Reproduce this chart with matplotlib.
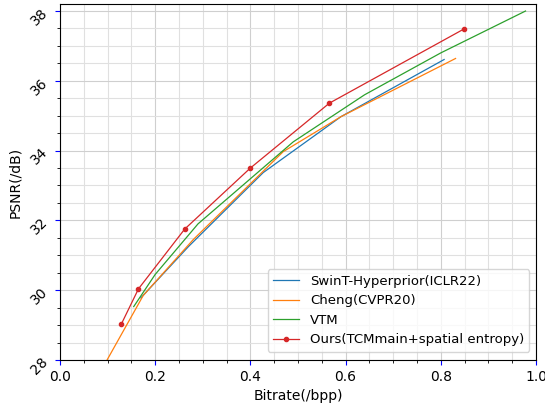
import matplotlib.pyplot as plt
from matplotlib.ticker import MultipleLocator

# RD data
swint_bpp = [0.17, 0.27, 0.427, 0.59, 0.807]
swint_psnr = [29.78, 31.25, 33.37, 34.97, 36.61]

cheng_bpp = [0.099, 0.175, 0.28, 0.469, 0.59, 0.831]
cheng_psnr = [28.0, 29.85, 31.45, 33.97, 34.97, 36.64]

vtm_bpp = [0.155, 0.2, 0.29, 0.49, 0.64, 0.80, 0.978]
vtm_psnr = [29.53, 30.45, 31.9, 34.25, 35.6, 36.8, 38.0]

ours_bpp = [0.129, 0.165, 0.262, 0.40, 0.566, 0.848]
ours_psnr = [29.03, 30.04, 31.75, 33.50, 35.36, 37.48]

fig = plt.figure(figsize=(5.45, 4.04), dpi=100)
ax = fig.add_axes([0.110, 0.109, 0.8735, 0.881])

ax.plot(swint_bpp, swint_psnr, color="tab:blue", lw=0.9, label="SwinT-Hyperprior(ICLR22)")
ax.plot(cheng_bpp, cheng_psnr, color="tab:orange", lw=0.9, label="Cheng(CVPR20)")
ax.plot(vtm_bpp, vtm_psnr, color="tab:green", lw=0.9, label="VTM")
ax.plot(ours_bpp, ours_psnr, color="tab:red", lw=0.9, marker="o", markersize=3,
        label="Ours(TCMmain+spatial entropy)")

ax.set_xlim(0, 1.0)
ax.set_ylim(28, 38.2)
ax.xaxis.set_major_locator(MultipleLocator(0.2))
ax.xaxis.set_minor_locator(MultipleLocator(0.05))
ax.yaxis.set_major_locator(MultipleLocator(2))
ax.yaxis.set_minor_locator(MultipleLocator(0.5))

ax.tick_params(which="major", color="blue")
ax.tick_params(which="minor", color="black")
plt.setp(ax.get_yticklabels(), rotation=45)

ax.grid(which="major", color="#cfcfcf", lw=0.8)
ax.grid(which="minor", color="#e0e0e0", lw=0.8)
ax.set_axisbelow(True)

ax.set_xlabel("Bitrate(/bpp)")
ax.set_ylabel("PSNR(/dB)")
ax.legend(loc="lower right", fontsize=9.5, bbox_to_anchor=(0.986, 0.023),
          borderaxespad=0)

fig.savefig("out.png", dpi=100)
